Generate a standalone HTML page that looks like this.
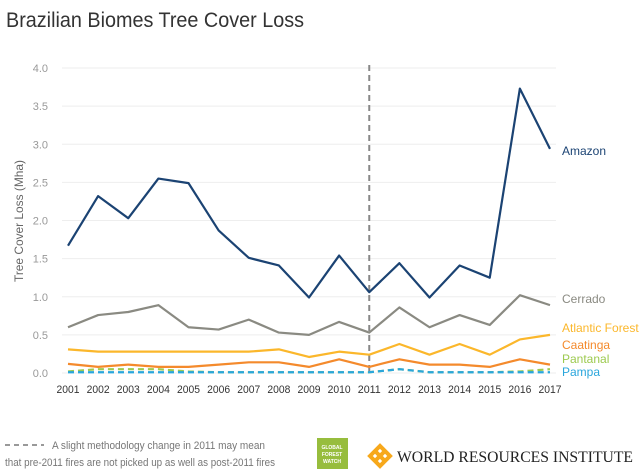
<!DOCTYPE html>
<html><head><meta charset="utf-8"><style>
body{margin:0;background:#fff;font-family:"Liberation Sans",sans-serif;}
svg{display:block}
</style></head><body>
<svg id="c" width="640" height="475" font-family="Liberation Sans, sans-serif">
<text x="6" y="27" font-size="21" fill="#333" textLength="298" lengthAdjust="spacingAndGlyphs">Brazilian Biomes Tree Cover Loss</text>
<text transform="translate(23,221) rotate(-90)" text-anchor="middle" font-size="12" fill="#666" textLength="122" lengthAdjust="spacingAndGlyphs">Tree Cover Loss (Mha)</text>
<g id="grid"></g><g id="series"></g>
<g font-size="11" fill="#777">
<line x1="5" y1="445" x2="44" y2="445" stroke="#999" stroke-width="2" stroke-dasharray="5,4"/>
<text x="52" y="449" textLength="213" lengthAdjust="spacingAndGlyphs">A slight methodology change in 2011 may mean</text>
<text x="5" y="466" textLength="270" lengthAdjust="spacingAndGlyphs">that pre-2011 fires are not picked up as well as post-2011 fires</text>
</g>
<g>
<rect x="317" y="438" width="31" height="31" fill="#97bd3d"/>
<text x="332" y="449" font-size="5" fill="#fff" text-anchor="middle" font-weight="bold">GLOBAL</text>
<text x="332" y="456" font-size="5" fill="#fff" text-anchor="middle" font-weight="bold">FOREST</text>
<text x="332" y="463" font-size="5" fill="#fff" text-anchor="middle" font-weight="bold">WATCH</text>
</g>
<g>
<g transform="translate(380,456)" fill="none" stroke="#f7a81b" stroke-width="4">
<path d="M-10,0 L0,-10 L10,0 L0,10 Z"/><path d="M-5,-5 L5,5 M5,-5 L-5,5"/>
</g>
<text x="397" y="462" font-family="Liberation Serif, serif" font-size="16" fill="#222" textLength="236" lengthAdjust="spacingAndGlyphs">WORLD RESOURCES INSTITUTE</text>
</g>
</svg>
<script>
const years=[2001,2002,2003,2004,2005,2006,2007,2008,2009,2010,2011,2012,2013,2014,2015,2016,2017];
const yTicks=[0,0.5,1,1.5,2,2.5,3,3.5,4];
const amazon=[1.67,2.32,2.03,2.55,2.49,1.87,1.51,1.41,0.99,1.54,1.06,1.44,0.99,1.41,1.25,3.73,2.94];
const cerrado=[0.60,0.76,0.80,0.89,0.60,0.57,0.70,0.53,0.50,0.67,0.53,0.86,0.60,0.76,0.63,1.02,0.89];
const atlantic=[0.31,0.28,0.28,0.28,0.28,0.28,0.28,0.31,0.21,0.28,0.24,0.38,0.24,0.38,0.24,0.44,0.50];
const caatinga=[0.12,0.08,0.11,0.08,0.08,0.11,0.14,0.14,0.08,0.18,0.08,0.18,0.11,0.11,0.08,0.18,0.11];
const pantanal=[0.02,0.05,0.05,0.05,0.02,0.01,0.01,0.01,0.01,0.01,0.01,0.05,0.01,0.01,0.01,0.02,0.05];
const pampa=[0.01,0.01,0.01,0.01,0.01,0.01,0.01,0.01,0.01,0.01,0.01,0.05,0.01,0.01,0.01,0.01,0.01];
const NS="http://www.w3.org/2000/svg";
const X=y=>68+(y-2001)*(550-68)/16;
const Y=v=>373-v*76.25;
function mk(t,a,p){const e=document.createElementNS(NS,t);for(const k in a)e.setAttribute(k,a[k]);p.appendChild(e);return e;}
const grid=document.getElementById('grid'),ser=document.getElementById('series');
yTicks.forEach(v=>{
 const l=mk('line',{x1:62,x2:556,y1:Y(v),y2:Y(v),stroke:'#eee','stroke-width':1},grid);
 
 
 const t=mk('text',{x:48,y:Y(v)+4,'text-anchor':'end','font-size':11,fill:'#999'},grid);t.textContent=v.toFixed(1);
 
 
});
years.forEach(y=>{
 const t=mk('text',{x:X(y),y:393,'text-anchor':'middle','font-size':11,fill:'#333',textLength:23,lengthAdjust:'spacingAndGlyphs'},grid);t.textContent=y;
 
 
});
const ml=mk('line',{x1:X(2011),x2:X(2011),y1:65,y2:373,stroke:'#888','stroke-width':2,'stroke-dasharray':'6,4'},grid);


const S=[[amazon,'#1b4373',null,'Amazon',155,'series-amazon'],[cerrado,'#8a8a82',null,'Cerrado',303,'series-cerrado'],
[atlantic,'#fbb72b',null,'Atlantic Forest',332,'series-atlantic-forest'],[caatinga,'#f48a2c',null,'Caatinga',349,'series-caatinga'],
[pantanal,'#9dca4f','6,4','Pantanal',363,'series-pantanal'],[pampa,'#2aa6dc','6,4','Pampa',376,'series-pampa']];
S.forEach(([d,c,da,name,ly,dn])=>{
 const p=mk('polyline',{points:d.map((v,i)=>X(years[i])+','+Y(v)).join(' '),fill:'none',stroke:c,'stroke-width':2.2,'stroke-linejoin':'round'},ser);
 if(da)p.setAttribute('stroke-dasharray',da);
 
 
 const t=mk('text',{x:562,y:ly,'font-size':12,fill:c},ser);t.textContent=name;
 
 
});
</script>
</body></html>
